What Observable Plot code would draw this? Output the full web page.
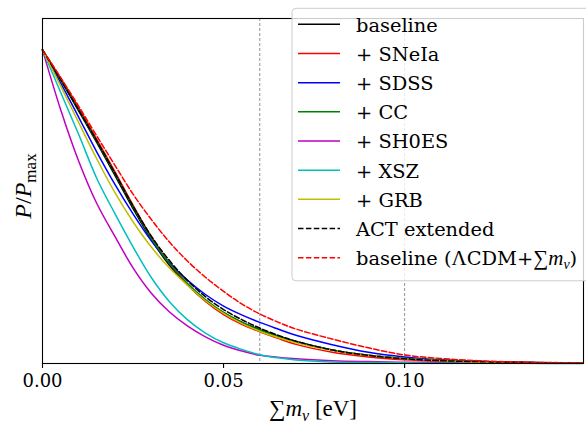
<!DOCTYPE html>
<html><head><meta charset="utf-8">
<script src="https://cdn.jsdelivr.net/npm/d3@7"></script>
<script src="https://cdn.jsdelivr.net/npm/@observablehq/plot@0.6"></script>
<style>body{margin:0;background:#fff} svg{overflow:visible}</style>
</head><body><div id="chart"></div><script>
// x grid: sum of neutrino masses [eV]
const mnu = [0, 0.005, 0.01, 0.015, 0.02, 0.025, 0.03, 0.035, 0.04, 0.045, 0.05, 0.055, 0.06, 0.065, 0.07, 0.08, 0.09, 0.10, 0.11, 0.12, 0.13, 0.14, 0.149];
// P/Pmax for each data combination
const baseline = [1, 0.905, 0.805, 0.704, 0.600, 0.494, 0.396, 0.314, 0.251, 0.200, 0.162, 0.132, 0.108, 0.088, 0.070, 0.043, 0.026, 0.015, 0.009, 0.006, 0.004, 0.002, 0.001];
const snela    = [1, 0.910, 0.815, 0.715, 0.612, 0.505, 0.405, 0.320, 0.253, 0.198, 0.156, 0.125, 0.101, 0.080, 0.061, 0.036, 0.021, 0.012, 0.007, 0.004, 0.003, 0.002, 0.001];
const sdss     = [1, 0.895, 0.785, 0.674, 0.571, 0.477, 0.392, 0.322, 0.266, 0.220, 0.183, 0.155, 0.131, 0.110, 0.090, 0.060, 0.036, 0.021, 0.012, 0.007, 0.004, 0.002, 0.001];
const cc       = [1, 0.905, 0.808, 0.708, 0.605, 0.500, 0.400, 0.320, 0.256, 0.204, 0.163, 0.132, 0.107, 0.087, 0.069, 0.043, 0.026, 0.016, 0.010, 0.006, 0.004, 0.002, 0.001];
const sh0es    = [1, 0.810, 0.645, 0.510, 0.405, 0.305, 0.225, 0.165, 0.120, 0.085, 0.058, 0.040, 0.026, 0.020, 0.015, 0.009, 0.006, 0.004, 0.003, 0.002, 0.001, 0.001, 0.0005];
const xsz      = [1, 0.865, 0.730, 0.590, 0.478, 0.372, 0.275, 0.198, 0.140, 0.097, 0.066, 0.045, 0.028, 0.018, 0.011, 0.005, 0.003, 0.002, 0.001, 0.001, 0.0005, 0.0003, 0.0002];
const grb      = [1, 0.885, 0.768, 0.652, 0.545, 0.452, 0.372, 0.305, 0.250, 0.200, 0.160, 0.128, 0.103, 0.083, 0.066, 0.042, 0.026, 0.015, 0.009, 0.005, 0.003, 0.002, 0.001];
const act      = [1, 0.905, 0.808, 0.710, 0.607, 0.502, 0.407, 0.329, 0.265, 0.213, 0.172, 0.140, 0.113, 0.090, 0.071, 0.043, 0.026, 0.015, 0.009, 0.006, 0.004, 0.002, 0.001];
const lcdm     = [1, 0.912, 0.820, 0.725, 0.632, 0.540, 0.460, 0.388, 0.327, 0.275, 0.230, 0.190, 0.158, 0.132, 0.110, 0.078, 0.050, 0.027, 0.016, 0.009, 0.005, 0.003, 0.002];

const seriesNames = ["baseline", "+ SNeIa", "+ SDSS", "+ CC", "+ SH0ES", "+ XSZ", "+ GRB", "ACT extended", "baseline (ΛCDM+∑mν)"];
const seriesValues = [baseline, snela, sdss, cc, sh0es, xsz, grb, act, lcdm];
const seriesColors = ["#000000", "#ff0000", "#0000ff", "#008000", "#bf00bf", "#00bfbf", "#bfbf00", "#000000", "#ff0000"];
const seriesDashed = [false, false, false, false, false, false, false, true, true];
const xTicks = [0, 0.05, 0.10];
const vLines = [0.06, 0.10];

const rows = seriesNames.flatMap((name, k) => mnu.map((m, i) => ({series: name, k, m, p: seriesValues[k][i]})));

const chart = Plot.plot({
  width: 586, height: 426,
  marginLeft: 42, marginRight: 3, marginTop: 18, marginBottom: 63,
  style: {fontFamily: "DejaVu Serif", fontSize: "18px", background: "white", color: "black"},
  x: {domain: [0, 0.1494]},
  y: {domain: [0, 1.1], axis: null},
  marks: [
    Plot.ruleX(vLines, {stroke: "#777777", strokeWidth: 0.8, strokeDasharray: "3,2"}),
    ...seriesNames.map((name, k) => Plot.line(rows.filter(r => r.k === k), {
      x: "m", y: "p", stroke: seriesColors[k], strokeWidth: 1.5,
      strokeDasharray: seriesDashed[k] ? "5.5,2.4" : null, curve: "catmull-rom"
    })),
    Plot.frame({stroke: "black", strokeWidth: 1.1}),
    Plot.axisX({ticks: xTicks, tickFormat: d3.format(".2f"), tickSize: 5, tickPadding: 6, fontSize: 18, label: null, strokeWidth: 1.1})
  ]
});
document.getElementById("chart").appendChild(chart);

const svg = d3.select(chart);
// axis labels
const xl = svg.append("text").attr("x", 313).attr("y", 416).attr("text-anchor", "middle")
  .attr("font-family", "Liberation Serif").attr("font-size", 23).attr("fill", "black");
xl.append("tspan").text("∑");
xl.append("tspan").attr("font-style", "italic").text("m");
xl.append("tspan").attr("font-style", "italic").attr("font-size", 16).attr("dy", 5).text("ν");
xl.append("tspan").attr("dy", -5).text(" [eV]");

const yl = svg.append("text").attr("transform", "translate(31,186) rotate(-90)").attr("text-anchor", "middle")
  .attr("font-family", "Liberation Serif").attr("font-size", 24).attr("fill", "black");
yl.append("tspan").attr("font-style", "italic").text("P");
yl.append("tspan").text("/");
yl.append("tspan").attr("font-style", "italic").text("P");
yl.append("tspan").attr("font-size", 17).attr("dy", 5).text("max");

// legend
const lg = svg.append("g").attr("text-anchor", "start");
lg.append("rect").attr("x", 292).attr("y", 8.3).attr("width", 300).attr("height", 272.5).attr("rx", 4)
  .attr("fill", "white").attr("fill-opacity", 0.8).attr("stroke", "#cccccc").attr("stroke-width", 1);
seriesNames.forEach((name, i) => {
  const yLine = 24.3 + i * 29.17;
  lg.append("line").attr("x1", 298).attr("x2", 340).attr("y1", yLine).attr("y2", yLine)
    .attr("stroke", seriesColors[i]).attr("stroke-width", 1.5)
    .attr("stroke-dasharray", seriesDashed[i] ? "5.5,2.4" : null);
  const t = lg.append("text").attr("x", 356).attr("y", yLine + 7.4).attr("text-anchor", "start")
    .attr("font-family", "DejaVu Serif").attr("font-size", 19.4).attr("fill", "black");
  if (i === 8) {
    t.append("tspan").text("baseline (");
    t.append("tspan").attr("font-family", "Liberation Serif").attr("font-size", 21).text("Λ");
    t.append("tspan").text("CDM+");
    t.append("tspan").attr("font-family", "Liberation Serif").attr("font-size", 21).text("∑");
    t.append("tspan").attr("font-family", "Liberation Serif").attr("font-size", 21).attr("font-style", "italic").text("m");
    t.append("tspan").attr("font-family", "Liberation Serif").attr("font-size", 14).attr("font-style", "italic").attr("dy", 4).text("ν");
    t.append("tspan").attr("dy", -4).text(")");
  } else {
    t.text(name);
  }
});
</script></body></html>
